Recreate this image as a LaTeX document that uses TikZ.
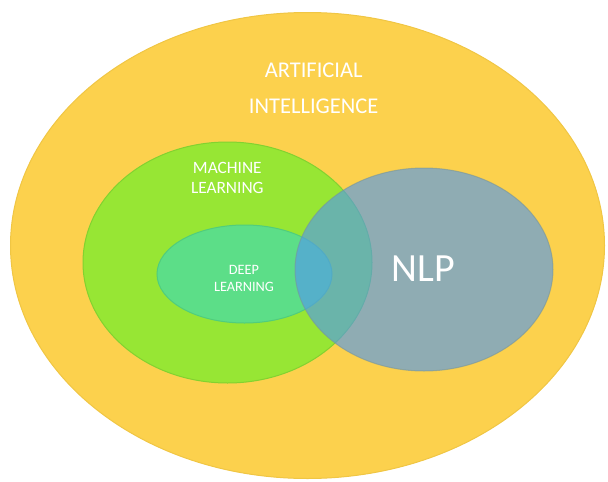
\documentclass[tikz,border=0pt]{standalone}
\usepackage{fontspec}
\setmainfont{Carlito}
\usetikzlibrary{shapes.geometric}
\definecolor{aiyellow}{RGB}{252,209,77}
\definecolor{aiedge}{RGB}{240,198,68}
\definecolor{mlgreen}{RGB}{151,230,52}
\definecolor{mledge}{RGB}{130,210,48}
\definecolor{dlgreen}{RGB}{92,222,136}
\definecolor{dledge}{RGB}{80,205,125}
\definecolor{nlpblue}{RGB}{82,152,238}
\definecolor{nlpedge}{RGB}{120,150,155}
\begin{document}
\begin{tikzpicture}[x=1pt,y=-1pt,
  blob/.style={ellipse, inner sep=0pt, outer sep=0pt, line width=1pt},
  lbl/.style={text=white, align=center, inner sep=0pt}]
\useasboundingbox (0,0) rectangle (608,482);
\node[blob, fill=aiyellow, draw=aiedge, minimum width=594pt, minimum height=466pt] (ai) at (307.5,245.5) {};
\node[blob, fill=mlgreen, draw=mledge, minimum width=289pt, minimum height=241pt] (ml) at (227.5,262.5) {};
\node[blob, fill=dlgreen, draw=dledge, minimum width=175pt, minimum height=98pt] (dl) at (244.5,274) {};
\node[blob, fill=nlpblue, fill opacity=0.64, draw=nlpedge, draw opacity=0.6, minimum width=258pt, minimum height=203pt] (nlp) at (424,269.5) {};
\node[lbl, font=\fontsize{22.5}{36.5}\selectfont] (ait) at (313.7,88.2) {ARTIFICIAL\\INTELLIGENCE};
\node[lbl, font=\fontsize{17.3}{20}\selectfont] (mlt) at (227.3,177.5) {MACHINE\\LEARNING};
\node[lbl, font=\fontsize{14.3}{17.5}\selectfont] (dlt) at (244,278.3) {DEEP\\LEARNING};
\node[lbl, font=\fontsize{40}{48}\selectfont] (nlpt) at (423.5,268.5) {NLP};
\end{tikzpicture}
\end{document}
